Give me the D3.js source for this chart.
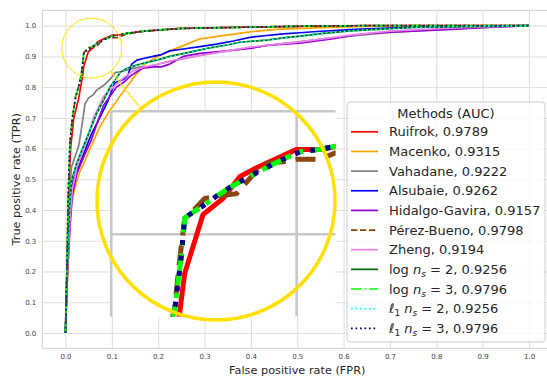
<!DOCTYPE html>
<html><head><meta charset="utf-8">
<script src="https://cdn.jsdelivr.net/npm/d3@7"></script>
<style>
body{margin:0;background:#fff;}
svg{display:block;font-family:"DejaVu Sans",sans-serif;}
</style>
</head><body>
<svg id="chart" width="547" height="378"></svg>
<script>
// ---------------- DATA ----------------
const tickValues = [0,0.1,0.2,0.3,0.4,0.5,0.6,0.7,0.8,0.9,1.0];
const xLabel = "False positive rate (FPR)";
const yLabel = "True positive rate (TPR)";
const legendTitle = "Methods (AUC)";

const curveRuifrok = [[0,0],[0.003,0.2],[0.007,0.45],[0.011,0.6],[0.018,0.7],[0.028,0.76],[0.0369,0.836],[0.0396,0.868],[0.0495,0.916],[0.0603,0.929],[0.0694,0.947],[0.0784,0.954],[0.0883,0.961],[0.1,0.969],[0.1144,0.969],[0.132,0.975],[0.168,0.982],[0.204,0.986],[0.25,0.991],[0.39,0.995],[0.5,0.998],[0.65,1],[1,1]];
const curveMacenko = [[0,0],[0.005,0.2],[0.01,0.4],[0.02,0.47],[0.031,0.525],[0.042,0.56],[0.053,0.6],[0.074,0.67],[0.096,0.725],[0.115,0.765],[0.132,0.8],[0.154,0.844],[0.171,0.875],[0.197,0.898],[0.225,0.918],[0.254,0.935],[0.29,0.957],[0.355,0.971],[0.398,0.98],[0.456,0.988],[0.506,0.991],[0.607,0.996],[0.7,0.999],[1,1]];
const curveVahadane = [[0,0],[0.004,0.25],[0.008,0.45],[0.013,0.54],[0.022,0.58],[0.028,0.605],[0.035,0.67],[0.042,0.745],[0.05,0.765],[0.06,0.775],[0.067,0.79],[0.082,0.805],[0.096,0.825],[0.107,0.847],[0.118,0.85],[0.132,0.855],[0.146,0.861],[0.161,0.866],[0.182,0.866],[0.204,0.876],[0.225,0.884],[0.29,0.903],[0.35,0.918],[0.398,0.928],[0.45,0.938],[0.506,0.948],[0.56,0.958],[0.614,0.966],[0.7,0.978],[0.8,0.987],[0.9,0.994],[1,1]];
const curveAlsubaie = [[0,0],[0.004,0.2],[0.009,0.4],[0.017,0.5],[0.031,0.551],[0.042,0.594],[0.0565,0.649],[0.071,0.692],[0.082,0.725],[0.092,0.757],[0.1,0.79],[0.107,0.815],[0.125,0.825],[0.135,0.84],[0.143,0.875],[0.154,0.888],[0.168,0.893],[0.189,0.9],[0.207,0.906],[0.225,0.918],[0.254,0.924],[0.29,0.932],[0.326,0.94],[0.362,0.95],[0.398,0.962],[0.434,0.968],[0.47,0.973],[0.506,0.977],[0.542,0.981],[0.614,0.987],[0.75,0.995],[0.85,0.998],[1,1]];
const curveHidalgo = [[0,0],[0.004,0.18],[0.01,0.35],[0.015,0.45],[0.025,0.52],[0.04,0.575],[0.055,0.625],[0.07,0.69],[0.082,0.74],[0.096,0.77],[0.11,0.8],[0.125,0.815],[0.139,0.835],[0.154,0.85],[0.168,0.862],[0.189,0.866],[0.207,0.866],[0.225,0.875],[0.254,0.9],[0.29,0.91],[0.326,0.915],[0.398,0.926],[0.434,0.936],[0.506,0.943],[0.578,0.958],[0.635,0.972],[0.7,0.979],[0.75,0.982],[0.844,0.989],[0.88,0.992],[1,1]];
const curvePerezBueno = [[0,0],[0.003,0.2],[0.006,0.45],[0.0097,0.62],[0.015,0.7],[0.0218,0.768],[0.028,0.8],[0.0342,0.84],[0.0366,0.875],[0.0396,0.913],[0.0423,0.916],[0.0504,0.929],[0.0585,0.931],[0.0676,0.933],[0.0775,0.95],[0.0838,0.958],[0.0928,0.959],[0.1,0.961],[0.1126,0.961],[0.132,0.973],[0.168,0.981],[0.204,0.986],[0.25,0.991],[0.39,0.995],[0.5,0.998],[0.65,1],[1,1]];
const curveZheng = [[0,0],[0.004,0.2],[0.01,0.38],[0.015,0.47],[0.025,0.54],[0.04,0.6],[0.053,0.66],[0.06,0.7],[0.07,0.73],[0.082,0.77],[0.103,0.8],[0.125,0.83],[0.146,0.853],[0.168,0.865],[0.197,0.874],[0.225,0.885],[0.254,0.893],[0.29,0.903],[0.35,0.918],[0.398,0.93],[0.45,0.938],[0.506,0.947],[0.56,0.958],[0.614,0.969],[0.7,0.982],[0.8,0.99],[0.9,0.996],[1,1]];
const curveNs2 = [[0,0],[0.004,0.22],[0.009,0.42],[0.013,0.497],[0.024,0.551],[0.038,0.605],[0.053,0.66],[0.067,0.714],[0.082,0.757],[0.096,0.8],[0.107,0.822],[0.118,0.848],[0.132,0.861],[0.154,0.872],[0.175,0.88],[0.197,0.888],[0.225,0.9],[0.269,0.914],[0.312,0.928],[0.348,0.937],[0.376,0.946],[0.434,0.953],[0.47,0.96],[0.506,0.966],[0.556,0.975],[0.614,0.983],[0.75,0.994],[0.9,0.998],[1,1]];
const curveNs3 = [[0,0],[0.003,0.2],[0.006,0.45],[0.0097,0.62],[0.015,0.7],[0.0218,0.768],[0.028,0.8],[0.0342,0.838],[0.0378,0.882],[0.0396,0.913],[0.0423,0.916],[0.0495,0.923],[0.0568,0.931],[0.0639,0.938],[0.0711,0.944],[0.0784,0.95],[0.0874,0.957],[0.0955,0.963],[0.1018,0.967],[0.1126,0.969],[0.132,0.975],[0.168,0.982],[0.204,0.986],[0.25,0.991],[0.39,0.995],[0.5,0.998],[0.65,1],[1,1]];

const methodNames = ["Ruifrok","Macenko","Vahadane","Alsubaie","Hidalgo-Gavira","Pérez-Bueno","Zheng","log2","log3","l1_2","l1_3"];
const methodAUC = ["0.9789","0.9315","0.9222","0.9262","0.9157","0.9798","0.9194","0.9256","0.9796","0.9256","0.9796"];
const methodCurves = [curveRuifrok,curveMacenko,curveVahadane,curveAlsubaie,curveHidalgo,curvePerezBueno,curveZheng,curveNs2,curveNs3,curveNs2,curveNs3];
const insetMethods = ["Ruifrok","Pérez-Bueno","log3","l1_3"];
const zoomCenter = [0.0565, 0.927];
const insetLimitsX = [0, 0.121];
const insetLimitsY = [0.833, 1.0];
const insetGridX = [0, 0.1];
const insetGridY = [0.9, 1.0];

// ---------------- STYLES ----------------
const colors = ["#ff0000","#ffa500","#808080","#0000ff","#9400d3","#8b4513","#ee82ee","#006400","#00ff00","#00ffff","#00008b"];
const kinds  = ["solid","solid","solid","solid","solid","dashed","solid","solid","dashdot","dotted","dotted"];
function dash(kind, lw){
  if(kind==="dashed") return `${3.7*lw},${1.6*lw}`;
  if(kind==="dashdot") return `${6.4*lw},${1.6*lw},${lw},${1.6*lw}`;
  if(kind==="dotted") return `${lw},${1.65*lw}`;
  return null;
}
const YELLOW = "#ffe000";

// ---------------- LAYOUT ----------------
const svg = d3.select("#chart");
const L = 42.3, R = 552.2, T = 10.3, B = 348.3;
const x = d3.scaleLinear().domain([-0.05,1.05]).range([L,R]);
const y = d3.scaleLinear().domain([-0.05,1.05]).range([B,T]);

const defs = svg.append("defs");
defs.append("clipPath").attr("id","mainClip").append("rect")
  .attr("x",L).attr("y",T).attr("width",R-L).attr("height",B-T);

// grid + tick labels via axes
const gx = svg.append("g").attr("transform",`translate(0,${B})`)
  .call(d3.axisBottom(x).tickValues(tickValues).tickFormat(d3.format(".1f")).tickSize(-(B-T)).tickPadding(5.5));
const gy = svg.append("g").attr("transform",`translate(${L},0)`)
  .call(d3.axisLeft(y).tickValues(tickValues).tickFormat(d3.format(".1f")).tickSize(-(R-L)).tickPadding(6));
[gx,gy].forEach(g=>{
  g.select(".domain").remove();
  g.selectAll(".tick line").attr("stroke","#dedede").attr("stroke-width",1);
  g.selectAll(".tick text").attr("fill","#444").style("font-size","7px").style("font-family","DejaVu Sans");
});
// spines
svg.append("rect").attr("x",L).attr("y",T).attr("width",R-L).attr("height",B-T)
  .attr("fill","none").attr("stroke","#d0d0d0").attr("stroke-width",1);

// main curves
const line = d3.line().x(d=>x(d[0])).y(d=>y(d[1]));
const gMain = svg.append("g").attr("clip-path","url(#mainClip)");
const LW = 1.7;
methodCurves.forEach((c,i)=>{
  gMain.append("path").attr("d",line(c)).attr("fill","none")
    .attr("stroke",colors[i]).attr("stroke-width",LW)
    .attr("stroke-dasharray",dash(kinds[i],LW))
    .attr("stroke-linejoin","round");
});

// axis labels
svg.append("text").attr("x",(x(0)+x(1))/2).attr("y",373.5).attr("text-anchor","middle")
  .attr("fill","#262626").style("font-size","11.3px").text(xLabel);
svg.append("text").attr("transform",`translate(16,${(T+B)/2}) rotate(-90)`)
  .attr("text-anchor","middle").attr("dy","0.35em")
  .attr("fill","#262626").style("font-size","11.3px").text(yLabel);

// ---------------- ZOOM INSET ----------------
const smallR = 30, bigR = 119, K = 4;
const bigC = [216, 201];
const smallC = [x(zoomCenter[0]), y(zoomCenter[1])];
const sx = (x(1)-x(0))*K, sy = (y(0)-y(1))*K;
const xi = d3.scaleLinear().domain(insetLimitsX)
  .range([bigC[0]+(insetLimitsX[0]-zoomCenter[0])*sx, bigC[0]+(insetLimitsX[1]-zoomCenter[0])*sx]);
const yi = d3.scaleLinear().domain(insetLimitsY)
  .range([bigC[1]-(insetLimitsY[0]-zoomCenter[1])*sy, bigC[1]-(insetLimitsY[1]-zoomCenter[1])*sy]);

svg.append("circle").attr("cx",smallC[0]).attr("cy",smallC[1]).attr("r",smallR)
  .attr("fill","none").attr("stroke",YELLOW).attr("stroke-width",1);
const dx = bigC[0]-smallC[0], dy = bigC[1]-smallC[1], dl = Math.hypot(dx,dy);
svg.append("line")
  .attr("x1",smallC[0]+dx/dl*smallR).attr("y1",smallC[1]+dy/dl*smallR)
  .attr("x2",bigC[0]-dx/dl*bigR).attr("y2",bigC[1]-dy/dl*bigR)
  .attr("stroke",YELLOW).attr("stroke-width",1.2);

const ix0 = xi(insetLimitsX[0]), ix1 = xi(insetLimitsX[1]);
const iy0 = yi(insetLimitsY[1]), iy1 = yi(insetLimitsY[0]);
defs.append("clipPath").attr("id","insetClip").append("rect")
  .attr("x",ix0).attr("y",iy0).attr("width",ix1-ix0).attr("height",iy1-iy0);
const gIn = svg.append("g");
gIn.append("rect").attr("x",ix0).attr("y",iy0).attr("width",ix1-ix0).attr("height",iy1-iy0).attr("fill","#fff");
insetGridX.forEach(v=>gIn.append("line").attr("x1",xi(v)).attr("x2",xi(v)).attr("y1",iy0).attr("y2",iy1)
  .attr("stroke","#c8c8c8").attr("stroke-width",2.6));
insetGridY.forEach(v=>gIn.append("line").attr("y1",yi(v)).attr("y2",yi(v)).attr("x1",ix0).attr("x2",ix1)
  .attr("stroke","#c8c8c8").attr("stroke-width",2.6));
const lineIn = d3.line().x(d=>xi(d[0])).y(d=>yi(d[1]));
const gInLines = gIn.append("g").attr("clip-path","url(#insetClip)");
const ILW = 5;
methodNames.forEach((n,i)=>{
  if(!insetMethods.includes(n)) return;
  let da = dash(kinds[i],ILW);
  if(kinds[i]==="dotted") da = `${ILW},${2.1*ILW}`;
  if(kinds[i]==="dashed") da = `${4*ILW},${2*ILW}`;
  gInLines.append("path").attr("d",lineIn(methodCurves[i])).attr("fill","none")
    .attr("stroke",colors[i]).attr("stroke-width",ILW)
    .attr("stroke-dasharray",da).attr("stroke-linejoin","round");
});
svg.append("circle").attr("cx",bigC[0]).attr("cy",bigC[1]).attr("r",bigR)
  .attr("fill","none").attr("stroke",YELLOW).attr("stroke-width",3.6);

// ---------------- LEGEND ----------------
const lg = svg.append("g");
const LX = 347, LY = 102, LWd = 198, LH = 240;
lg.append("rect").attr("x",LX).attr("y",LY).attr("width",LWd).attr("height",LH).attr("rx",3.5)
  .attr("fill","#fff").attr("fill-opacity",0.8).attr("stroke","#cccccc").attr("stroke-width",1);
lg.append("text").attr("x",LX+LWd/2).attr("y",117.8).attr("text-anchor","middle")
  .attr("fill","#262626").style("font-size","13px").text(legendTitle);
methodNames.forEach((n,i)=>{
  const cy = 131.8 + i*19.65;
  lg.append("line").attr("x1",351).attr("x2",378).attr("y1",cy).attr("y2",cy)
    .attr("stroke",colors[i]).attr("stroke-width",LW).attr("stroke-dasharray",dash(kinds[i],LW));
  const t = lg.append("text").attr("x",389).attr("y",cy+4.6).attr("fill","#262626").style("font-size","13px");
  const ns = n.match(/^(log|l1)_?(\d)$/);
  if(!ns){ t.text(`${n}, ${methodAUC[i]}`); return; }
  if(ns[1]==="log"){
    t.append("tspan").text("log ");
  } else {
    t.append("tspan").attr("font-style","italic").text("ℓ");
    t.append("tspan").style("font-size","9px").attr("dy",3).text("1");
    t.append("tspan").attr("dy",-3).text(" ");
  }
  t.append("tspan").attr("font-style","italic").text("n");
  t.append("tspan").attr("font-style","italic").style("font-size","9px").attr("dy",3).text("s");
  t.append("tspan").attr("dy",-3).text(` = ${ns[2]}, ${methodAUC[i]}`);
});
</script>
</body></html>
